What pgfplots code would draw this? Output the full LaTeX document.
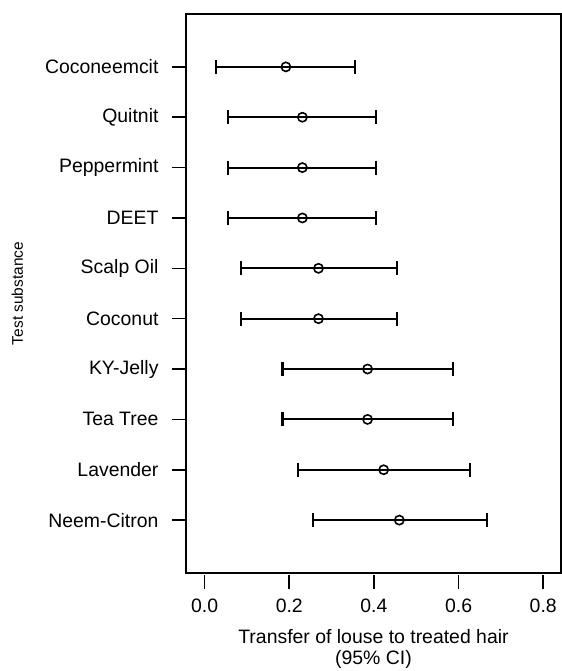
\documentclass[border=0pt]{standalone}
\usepackage{pgfplots}
\pgfplotsset{compat=1.18}
\usepackage{pgfplotstable}
\usepackage{fontspec}
\setmainfont{Liberation Sans}

% transfer of louse, point estimate with 95% CI
\pgfplotstableread{
y  est   lo    hi
10 0.192 0.028 0.355
9  0.231 0.056 0.405
8  0.231 0.056 0.405
7  0.231 0.056 0.405
6  0.269 0.085 0.454
5  0.269 0.085 0.454
4  0.385 0.184 0.587
3  0.385 0.184 0.587
2  0.423 0.220 0.628
1  0.460 0.255 0.666
}\transfer

\begin{document}
\begin{tikzpicture}
\path[use as bounding box] (-186bp,-98bp) rectangle (376bp,573bp);
\begin{axis}[
    scale only axis,
    width=375bp, height=559bp,
    xmin=-0.044, xmax=0.842,
    ymin=-0.05, ymax=11.05,
    axis line style={line width=1.6bp},
    tick align=outside,
    major tick length=14bp,
    tick style={line width=1.6bp, black},
    xtick={0,0.2,0.4,0.6,0.8},
    xtick pos=bottom,
    ytick pos=left,
    x tick style={yshift=-2bp},
    xticklabel={\pgfmathprintnumber[fixed,fixed zerofill,precision=1]{\tick}},
    /pgf/number format/assume math mode=true,
    xticklabel style={yshift=-8bp},
    ytick={1,...,10},
    yticklabels={Neem-Citron,Lavender,Tea Tree,KY-Jelly,Coconut,Scalp Oil,DEET,Peppermint,Quitnit,Coconeemcit},
    yticklabel style={xshift=-10bp},
    tick label style={font=\fontsize{19.5}{21}\selectfont},
    every axis x label/.style={at={(axis description cs:0.5,0)}, anchor=center, yshift=-76bp,
        align=center, font=\fontsize{19.5}{21}\selectfont},
    every axis y label/.style={at={(axis description cs:-0.45,0.5)}, anchor=center, rotate=90,
        font=\fontsize{15.5}{17}\selectfont},
    xlabel={Transfer of louse to treated hair\\(95\% CI)},
    ylabel={Test substance},
]
\addplot[black, only marks, mark=o, mark size=4.6bp,
    mark options={line width=1.6bp},
    error bars/.cd, x dir=both, x explicit,
    error bar style={line width=2bp, black},
    error mark options={line width=2bp, mark size=7bp, rotate=90}]
    table[x=est, y=y,
          x error plus expr=\thisrow{hi}-\thisrow{est},
          x error minus expr=\thisrow{est}-\thisrow{lo}] {\transfer};
\end{axis}
\end{tikzpicture}
\end{document}
